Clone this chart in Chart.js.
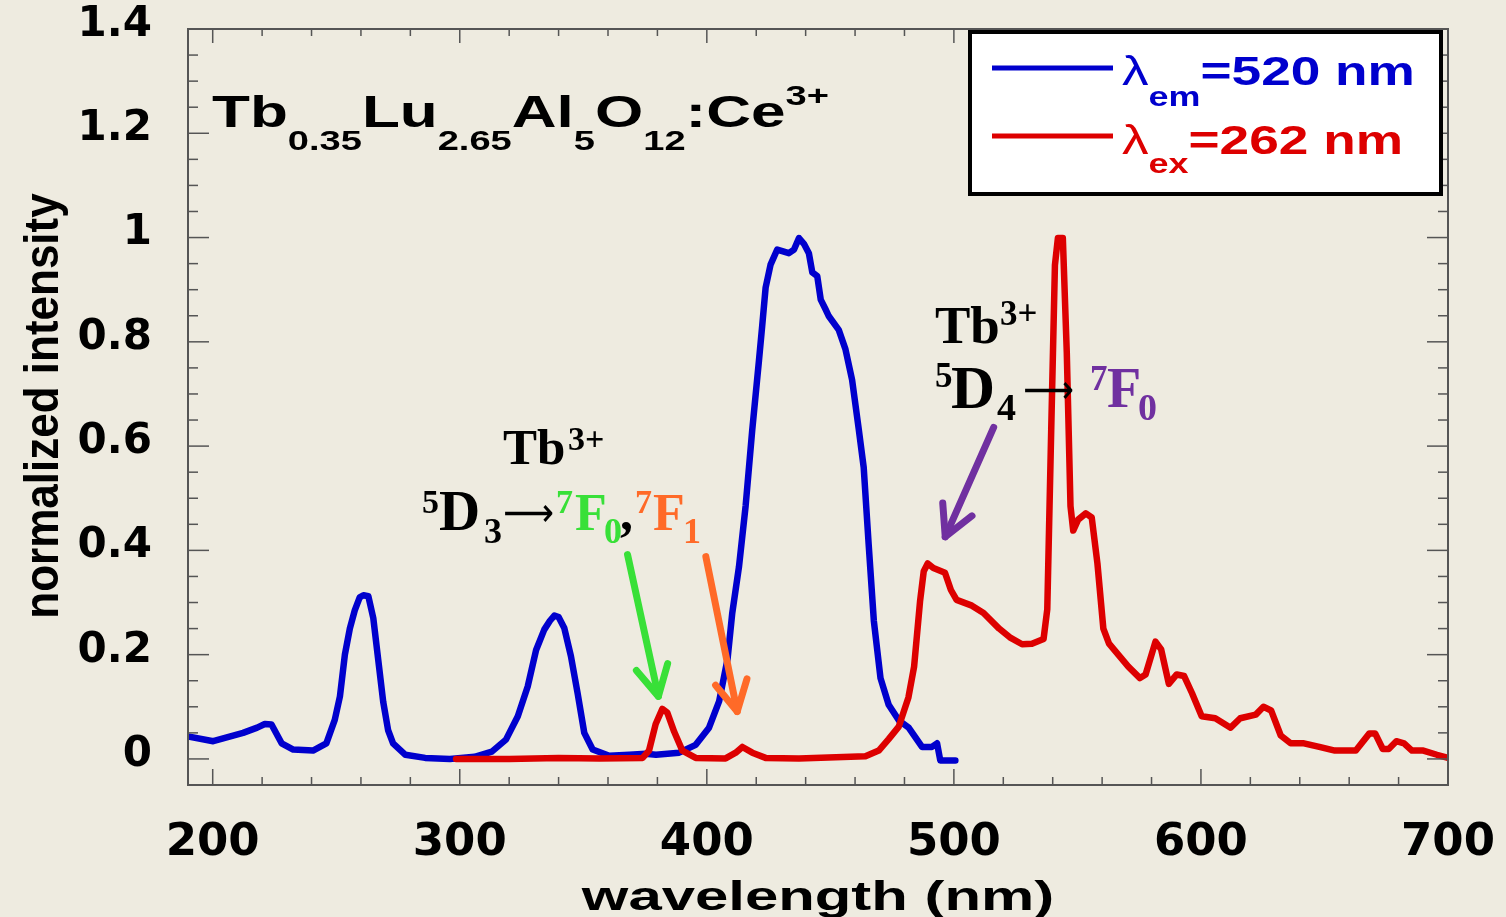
<!DOCTYPE html>
<html>
<head>
<meta charset="utf-8">
<title>Tb0.35Lu2.65Al5O12:Ce3+ spectra</title>
<script src="https://cdn.jsdelivr.net/npm/chart.js"></script>
<style>
  html, body { margin: 0; padding: 0; background: #eeebe0; }
  canvas { display: block; }
</style>
</head>
<body>
<canvas id="spec" width="1506" height="917"></canvas>
<script>
// excitation spectrum, monitored at 520 nm
const excNm = [190, 200.2, 212.3, 218, 221.1, 223.8, 227.9, 232.6, 240.6, 246, 249.4, 251.5, 253.5, 255.5, 257.5, 259.5, 261, 263, 265, 267, 269, 271, 273, 278, 286, 296, 306, 313, 318.7, 323.5, 327.5, 330.9, 334.2, 336.5, 338.3, 340, 342.3, 345, 347.7, 350.4, 353.8, 360.5, 368.6, 375.3, 379.4, 388.8, 395.5, 400.9, 405, 408.4, 410.3, 413, 415.7, 418.4, 421.1, 422.4, 423.8, 425.8, 428.5, 433.2, 435.3, 437.3, 439.3, 441.3, 442.7, 444.7, 446.1, 448, 449.4, 453.4, 456.1, 458.8, 461.5, 463.5, 465.5, 467.6, 470.3, 473.6, 477.7, 481.7, 487.1, 491.1, 493.2, 494.5, 500.6];
const excI = [0.043, 0.034, 0.050, 0.060, 0.067, 0.066, 0.030, 0.018, 0.016, 0.030, 0.075, 0.12, 0.20, 0.25, 0.285, 0.31, 0.314, 0.312, 0.27, 0.19, 0.11, 0.055, 0.03, 0.008, 0.002, 0.0, 0.004, 0.014, 0.037, 0.082, 0.139, 0.209, 0.248, 0.265, 0.275, 0.272, 0.251, 0.197, 0.126, 0.050, 0.018, 0.006, 0.008, 0.010, 0.008, 0.012, 0.027, 0.06, 0.111, 0.192, 0.28, 0.368, 0.485, 0.632, 0.764, 0.830, 0.904, 0.948, 0.977, 0.970, 0.977, 0.999, 0.988, 0.970, 0.933, 0.926, 0.881, 0.863, 0.849, 0.823, 0.786, 0.727, 0.632, 0.559, 0.412, 0.265, 0.155, 0.104, 0.074, 0.060, 0.023, 0.023, 0.030, -0.003, -0.003];

// emission spectrum, excited at 262 nm
const emiNm = [298.5, 320, 340, 356.5, 374, 376.6, 379.3, 382, 384, 386.8, 390.1, 395.5, 407.6, 411.7, 414.4, 418.4, 423.8, 437.3, 464.2, 469.6, 473.6, 477.7, 481.6, 483.9, 486.3, 487.8, 489.4, 491.7, 496.4, 498.8, 501.1, 507.3, 512, 518.3, 523, 527.6, 531.6, 536.3, 537.8, 539.4, 540.9, 542.1, 544.1, 545.7, 547.2, 548.3, 550.3, 553.4, 555.8, 558.1, 560.5, 562.8, 566.7, 570.6, 575.3, 577.6, 581.6, 583.9, 587, 590.2, 593.2, 596.4, 600.3, 605.8, 612, 615.9, 622.2, 625.3, 628.4, 632.3, 636.3, 641.7, 647.9, 654.2, 662.7, 668.2, 670.5, 673.6, 676, 679.1, 682.2, 685.4, 690, 695.5, 700];
const emiI = [0.0, 0.0, 0.002, 0.001, 0.002, 0.016, 0.067, 0.096, 0.089, 0.052, 0.016, 0.002, 0.001, 0.012, 0.023, 0.012, 0.002, 0.001, 0.005, 0.016, 0.038, 0.062, 0.118, 0.177, 0.302, 0.360, 0.375, 0.366, 0.357, 0.324, 0.305, 0.294, 0.280, 0.250, 0.232, 0.220, 0.221, 0.230, 0.287, 0.632, 0.947, 0.999, 0.999, 0.779, 0.485, 0.438, 0.459, 0.471, 0.463, 0.375, 0.250, 0.221, 0.199, 0.177, 0.155, 0.162, 0.225, 0.210, 0.144, 0.162, 0.159, 0.126, 0.082, 0.078, 0.060, 0.078, 0.085, 0.100, 0.093, 0.045, 0.030, 0.030, 0.023, 0.016, 0.016, 0.049, 0.049, 0.019, 0.019, 0.034, 0.030, 0.016, 0.016, 0.008, 0.002];

const xTicks = [200, 300, 400, 500, 600, 700];
const yTicks = [0, 0.2, 0.4, 0.6, 0.8, 1, 1.2, 1.4];

const BLUE = '#0000cd';
const RED = '#dd0000';
const GREEN = '#38e038';
const ORANGE = '#ff6a28';
const PURPLE = '#7030a0';

// pointer arrows for the Tb3+ lines, in data units
const pointers = [
  { from: [367.9, 0.392], to: [380.4, 0.120], color: GREEN },
  { from: [399.6, 0.388], to: [412.3, 0.091], color: ORANGE },
  { from: [516.1, 0.636], to: [496.5, 0.426], color: PURPLE }
];

const sans = (s, w = 'bold') => `${w} ${s}px "Liberation Sans"`;
const serif = s => `bold ${s}px "Liberation Serif"`;

function runs(ctx, x, y, parts, sx = 1, align = 'left') {
  ctx.save();
  ctx.textBaseline = 'alphabetic';
  ctx.textAlign = 'left';
  let w = 0;
  for (const p of parts) { ctx.font = p.font; w += ctx.measureText(p.t).width; }
  ctx.translate(align === 'center' ? x - w * sx / 2 : x, y);
  ctx.scale(sx, 1);
  let cx = 0;
  for (const p of parts) {
    ctx.font = p.font;
    ctx.fillStyle = p.c || '#000';
    ctx.fillText(p.t, cx, p.dy || 0);
    cx += ctx.measureText(p.t).width;
  }
  ctx.restore();
}

function put(ctx, t, x, y, font, c = '#000') {
  ctx.font = font;
  ctx.fillStyle = c;
  ctx.textBaseline = 'alphabetic';
  ctx.textAlign = 'left';
  ctx.fillText(t, x, y);
}

// long arrow glyph, its ink stretched to span x0..x1
function arrowText(ctx, x0, x1, y, size) {
  ctx.save();
  ctx.font = `${size}px "DejaVu Sans"`;
  ctx.textBaseline = 'middle';
  ctx.textAlign = 'left';
  const m = ctx.measureText('\u27f6');
  const ink = m.actualBoundingBoxLeft + m.actualBoundingBoxRight;
  const sx = (x1 - x0) / ink;
  ctx.translate(x0 + m.actualBoundingBoxLeft * sx, y);
  ctx.scale(sx, 1);
  ctx.fillStyle = '#000';
  ctx.fillText('\u27f6', 0, 0);
  ctx.restore();
}

function seg(ctx, x0, y0, x1, y1) {
  ctx.beginPath();
  ctx.moveTo(x0, y0);
  ctx.lineTo(x1, y1);
  ctx.stroke();
}

// keep the plot box where the axes put it, no extra room for label overhang
function noPad(s) {
  s.paddingLeft = 0;
  s.paddingRight = 0;
  s.paddingTop = 0;
  s.paddingBottom = 0;
}

const background = {
  id: 'background',
  beforeDraw(chart) {
    const ctx = chart.ctx;
    ctx.save();
    ctx.fillStyle = '#eeebe0';
    ctx.fillRect(0, 0, chart.width, chart.height);
    ctx.restore();
  }
};

// box with inward ticks on all four sides
const frame = {
  id: 'frame',
  afterDatasetsDraw(chart) {
    const { ctx, chartArea: a, scales: { x, y } } = chart;
    ctx.save();
    ctx.strokeStyle = '#555';
    ctx.lineWidth = 1.5;
    for (let v = 200; v <= 700; v += 20) {
      const px = x.getPixelForValue(v);
      const big = v % 100 === 0;
      seg(ctx, px, a.bottom, px, a.bottom - (big ? 16 : 8));
      seg(ctx, px, a.top, px, a.top + (big ? 14 : 7));
    }
    for (let i = 0; i <= 28; i++) {
      const py = y.getPixelForValue(i * 0.05);
      const big = i % 4 === 0;
      seg(ctx, a.left, py, a.left + (big ? 21 : 10), py);
      seg(ctx, a.right, py, a.right - (big ? 21 : 10), py);
    }
    ctx.lineWidth = 2;
    ctx.strokeRect(a.left, a.top, a.right - a.left, a.bottom - a.top);
    ctx.restore();
  }
};

const notes = {
  id: 'notes',
  afterDraw(chart) {
    const { ctx, scales: { x, y } } = chart;
    ctx.save();

    // axis titles
    runs(ctx, 818, 910, [{ t: 'wavelength (nm)', font: sans(41) }], 1.46, 'center');
    ctx.save();
    ctx.translate(58, 406);
    ctx.rotate(-Math.PI / 2);
    ctx.scale(1, 1.1);
    ctx.font = sans(44);
    ctx.fillStyle = '#000';
    ctx.textAlign = 'center';
    ctx.textBaseline = 'alphabetic';
    ctx.fillText('normalized intensity', 0, 0);
    ctx.restore();

    // compound formula
    runs(ctx, 212, 127, [
      { t: 'Tb', font: sans(44) }, { t: '0.35', font: sans(27), dy: 23 },
      { t: 'Lu', font: sans(44) }, { t: '2.65', font: sans(27), dy: 23 },
      { t: 'Al', font: sans(44) }, { t: '5', font: sans(27), dy: 23 },
      { t: 'O', font: sans(44) }, { t: '12', font: sans(27), dy: 23 },
      { t: ':Ce', font: sans(44) }, { t: '3+', font: sans(27), dy: -22 }
    ], 1.41);

    // legend
    const ds = chart.data.datasets;
    ctx.fillStyle = '#fff';
    ctx.fillRect(968, 30, 475, 166);
    ctx.strokeStyle = '#000';
    ctx.lineWidth = 4;
    ctx.strokeRect(970, 32, 471, 162);
    ctx.lineWidth = 5;
    ctx.strokeStyle = ds[0].borderColor;
    seg(ctx, 992, 68, 1113, 68);
    ctx.strokeStyle = ds[1].borderColor;
    seg(ctx, 992, 136, 1113, 136);
    runs(ctx, 1122, 85, [
      { t: '\u03bb', font: sans(40, 'normal'), c: ds[0].borderColor },
      { t: 'em', font: sans(27), dy: 21, c: ds[0].borderColor },
      { t: '=520 nm', font: sans(40), c: ds[0].borderColor }
    ], 1.33);
    runs(ctx, 1122, 154, [
      { t: '\u03bb', font: sans(40, 'normal'), c: ds[1].borderColor },
      { t: 'ex', font: sans(27), dy: 19, c: ds[1].borderColor },
      { t: '=262 nm', font: sans(40), c: ds[1].borderColor }
    ], 1.33);

    // Tb3+ 5D3 -> 7F0, 7F1
    put(ctx, 'Tb', 503, 464, serif(51));
    put(ctx, '3+', 568, 450, serif(34));
    put(ctx, '5', 422, 513, serif(34));
    put(ctx, 'D', 439, 530, serif(57));
    put(ctx, '3', 484, 543, serif(36));
    arrowText(ctx, 505, 553, 516, 40);
    put(ctx, '7', 556, 513, serif(34), GREEN);
    put(ctx, 'F', 575, 530, serif(52), GREEN);
    put(ctx, '0', 604, 543, serif(36), GREEN);
    put(ctx, ',', 620, 530, serif(52));
    put(ctx, '7', 635, 513, serif(34), ORANGE);
    put(ctx, 'F', 653, 530, serif(52), ORANGE);
    put(ctx, '1', 683, 543, serif(36), ORANGE);

    // Tb3+ 5D4 -> 7F0
    put(ctx, 'Tb', 935, 343, serif(53));
    put(ctx, '3+', 1000, 325, serif(35));
    put(ctx, '5', 935, 387, serif(35));
    put(ctx, 'D', 951, 408, serif(61));
    put(ctx, '4', 997, 420, serif(38));
    arrowText(ctx, 1025, 1073, 393, 40);
    put(ctx, '7', 1090, 390, serif(35), PURPLE);
    put(ctx, 'F', 1107, 407, serif(56), PURPLE);
    put(ctx, '0', 1138, 420, serif(38), PURPLE);

    // pointer arrows
    ctx.lineWidth = 7;
    ctx.lineCap = 'round';
    ctx.lineJoin = 'round';
    for (const p of pointers) {
      const x0 = x.getPixelForValue(p.from[0]), y0 = y.getPixelForValue(p.from[1]);
      const x1 = x.getPixelForValue(p.to[0]), y1 = y.getPixelForValue(p.to[1]);
      const ang = Math.atan2(y0 - y1, x0 - x1);
      ctx.strokeStyle = p.color;
      seg(ctx, x0, y0, x1, y1);
      ctx.beginPath();
      ctx.moveTo(x1 + 34 * Math.cos(ang - 0.49), y1 + 34 * Math.sin(ang - 0.49));
      ctx.lineTo(x1, y1);
      ctx.lineTo(x1 + 34 * Math.cos(ang + 0.49), y1 + 34 * Math.sin(ang + 0.49));
      ctx.stroke();
    }
    ctx.restore();
  }
};

const toXY = (xs, ys) => xs.map((v, i) => ({ x: v, y: ys[i] }));

new Chart(document.getElementById('spec'), {
  type: 'line',
  data: {
    datasets: [
      {
        label: '\u03bbem=520 nm',
        data: toXY(excNm, excI),
        borderColor: BLUE,
        borderWidth: 6.5,
        order: 1
      },
      {
        label: '\u03bbex=262 nm',
        data: toXY(emiNm, emiI),
        borderColor: RED,
        borderWidth: 6.5,
        order: 0
      }
    ]
  },
  options: {
    responsive: false,
    devicePixelRatio: 1,
    animation: false,
    layout: { padding: { left: 0, top: 29, right: 58, bottom: 0 } },
    elements: {
      point: { radius: 0 },
      line: { tension: 0, borderJoinStyle: 'round', borderCapStyle: 'round', fill: false }
    },
    plugins: { legend: { display: false }, tooltip: { enabled: false } },
    scales: {
      x: {
        type: 'linear',
        min: 190,
        max: 700,
        afterBuildTicks: s => { s.ticks = xTicks.map(v => ({ value: v })); },
        afterFit: s => { s.height = 132; noPad(s); },
        grid: { display: false },
        border: { display: false },
        ticks: {
          padding: 23,
          maxRotation: 0,
          autoSkip: false,
          color: '#000',
          font: { family: 'DejaVu Sans', weight: 'bold', size: 45 }
        }
      },
      y: {
        type: 'linear',
        min: -0.05,
        max: 1.4,
        afterBuildTicks: s => { s.ticks = yTicks.map(v => ({ value: v })); },
        afterFit: s => { s.width = 188; noPad(s); },
        grid: { display: false },
        border: { display: false },
        ticks: {
          padding: 28,
          labelOffset: -4,
          color: '#000',
          font: { family: 'DejaVu Sans', weight: 'bold', size: 42 },
          callback: v => String(+v.toFixed(1))
        }
      }
    }
  },
  plugins: [background, frame, notes]
});
</script>
</body>
</html>
